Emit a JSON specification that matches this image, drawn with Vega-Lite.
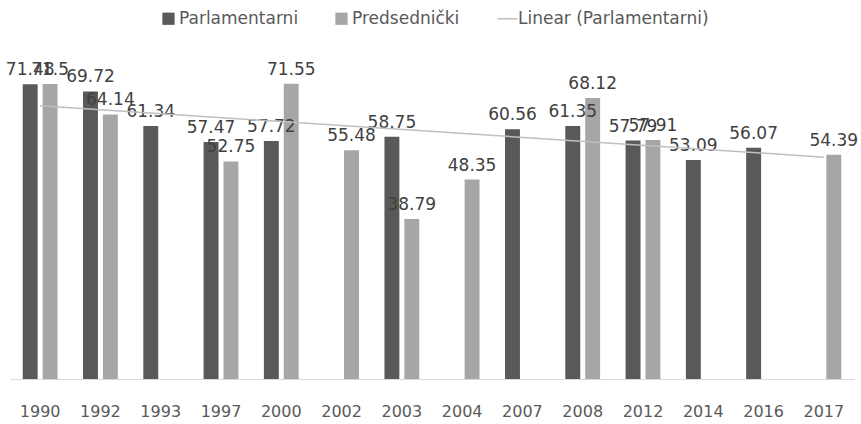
{
  "$schema": "https://vega.github.io/schema/vega-lite/v6.json",
  "autosize": {"type": "none"},
  "width": 844,
  "height": 330,
  "padding": {"left": 10, "top": 49, "right": 7, "bottom": 45},
  "background": "white",
  "config": {"view": {"stroke": null}, "font": "DejaVu Sans"},
  "data": {
    "values": [
      {"year": "1990", "idx": 0, "series": "Parlamentarni", "value": 71.48},
      {"year": "1990", "idx": 0, "series": "Predsednički", "value": 71.5},
      {"year": "1992", "idx": 1, "series": "Parlamentarni", "value": 69.72},
      {"year": "1992", "idx": 1, "series": "Predsednički", "value": 64.14},
      {"year": "1993", "idx": 2, "series": "Parlamentarni", "value": 61.34},
      {"year": "1997", "idx": 3, "series": "Parlamentarni", "value": 57.47},
      {"year": "1997", "idx": 3, "series": "Predsednički", "value": 52.75},
      {"year": "2000", "idx": 4, "series": "Parlamentarni", "value": 57.72},
      {"year": "2000", "idx": 4, "series": "Predsednički", "value": 71.55},
      {"year": "2002", "idx": 5, "series": "Predsednički", "value": 55.48},
      {"year": "2003", "idx": 6, "series": "Parlamentarni", "value": 58.75},
      {"year": "2003", "idx": 6, "series": "Predsednički", "value": 38.79},
      {"year": "2004", "idx": 7, "series": "Predsednički", "value": 48.35},
      {"year": "2007", "idx": 8, "series": "Parlamentarni", "value": 60.56},
      {"year": "2008", "idx": 9, "series": "Parlamentarni", "value": 61.35},
      {"year": "2008", "idx": 9, "series": "Predsednički", "value": 68.12},
      {"year": "2012", "idx": 10, "series": "Parlamentarni", "value": 57.79},
      {"year": "2012", "idx": 10, "series": "Predsednički", "value": 57.91},
      {"year": "2014", "idx": 11, "series": "Parlamentarni", "value": 53.09},
      {"year": "2016", "idx": 12, "series": "Parlamentarni", "value": 56.07},
      {"year": "2017", "idx": 13, "series": "Predsednički", "value": 54.39}
    ]
  },
  "resolve": {"scale": {"x": "independent"}},
  "layer": [
    {
      "mark": {"type": "bar"},
      "encoding": {
        "x": {
          "field": "year", "type": "nominal", "sort": null,
          "scale": {"paddingInner": 0.34, "paddingOuter": 0.17},
          "axis": {"title": null, "labelAngle": 0, "ticks": false, "domainColor": "#d9d9d9", "domainWidth": 1,
                   "labelFont": "DejaVu Sans", "labelFontSize": 16, "labelColor": "#595959", "labelPadding": 24}
        },
        "xOffset": {"field": "series", "type": "nominal", "scale": {"domain": ["Parlamentarni", "Predsednički"], "paddingInner": 0.25, "paddingOuter": 0.125}},
        "y": {"field": "value", "type": "quantitative", "scale": {"domain": [0, 80], "nice": false}, "axis": null},
        "color": {
          "field": "series", "type": "nominal",
          "scale": {"domain": ["Parlamentarni", "Predsednički", "Linear (Parlamentarni)"], "range": ["#595959", "#a6a6a6", "#bfbfbf"]},
          "legend": {
            "title": null, "orient": "none", "direction": "horizontal", "legendX": 150, "legendY": -39,
            "labelFont": "DejaVu Sans", "labelFontSize": 17, "labelColor": "#595959", "labelOffset": 2, "labelLimit": 400,
            "columnPadding": 34, "symbolSize": 150,
            "encode": {
              "symbols": {
                "update": {
                  "shape": {"signal": "datum.value === 'Linear (Parlamentarni)' ? 'stroke' : 'square'"},
                  "size": {"signal": "datum.value === 'Linear (Parlamentarni)' ? 400 : 150"},
                  "fill": {"signal": "datum.value === 'Linear (Parlamentarni)' ? 'transparent' : scale('color', datum.value)"},
                  "stroke": {"signal": "scale('color', datum.value)"},
                  "strokeWidth": {"signal": "datum.value === 'Linear (Parlamentarni)' ? 1.5 : 0"}
                }
              }
            }
          }
        }
      }
    },
    {
      "mark": {"type": "text", "baseline": "bottom", "dy": -5, "font": "DejaVu Sans", "fontSize": 17, "color": "#404040"},
      "encoding": {
        "x": {"field": "year", "type": "nominal", "sort": null, "scale": {"paddingInner": 0.34, "paddingOuter": 0.17}, "axis": null},
        "xOffset": {"field": "series", "type": "nominal", "scale": {"domain": ["Parlamentarni", "Predsednički"], "paddingInner": 0.25, "paddingOuter": 0.125}},
        "y": {"field": "value", "type": "quantitative", "scale": {"domain": [0, 80], "nice": false}},
        "text": {"field": "value", "type": "quantitative"}
      }
    },
    {
      "transform": [
        {"filter": "datum.series === 'Parlamentarni'"},
        {"regression": "value", "on": "idx", "extent": [0, 13]}
      ],
      "mark": {"type": "line", "color": "#bfbfbf", "strokeWidth": 1.5},
      "encoding": {
        "x": {"field": "idx", "type": "quantitative", "scale": {"domain": [-0.5, 13.5], "nice": false, "zero": false}, "axis": null},
        "y": {"field": "value", "type": "quantitative", "scale": {"domain": [0, 80], "nice": false}}
      }
    }
  ]
}
